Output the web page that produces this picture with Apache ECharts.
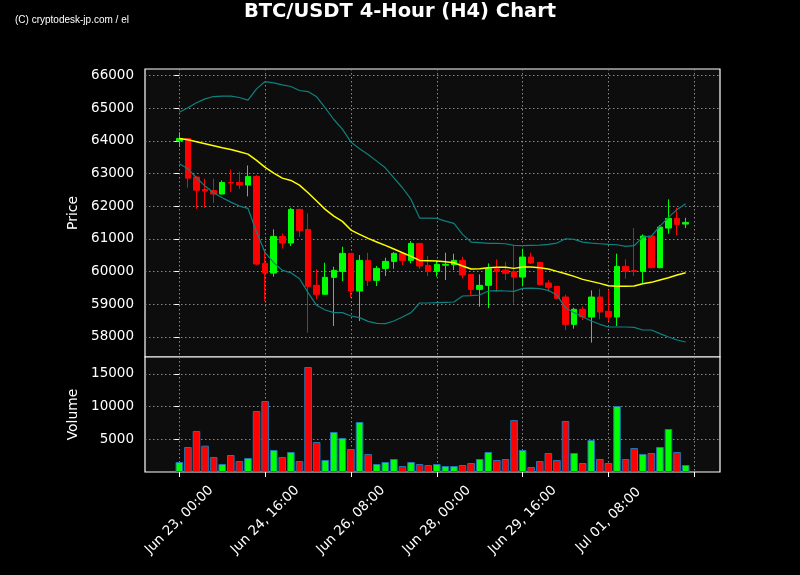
<!DOCTYPE html>
<html>
<head>
<meta charset="utf-8">
<script src="https://cdn.jsdelivr.net/npm/echarts@6/dist/echarts.min.js"></script>
<style>
html,body{margin:0;padding:0;background:#000;}
#c{width:800px;height:575px;}
</style>
</head>
<body>
<div id="c"></div>
<script>
// ---- data (4-hour candles, index 0 = Jun 23 00:00) ----
const openP  = [64000,64072,62890,62510,62480,62370,62720,62726,62645,62910,60247,59950,61070,60870,61900,61287,59574,59300,59819,60002,60553,59400,60339,59727,60094,60308,60553,60339,60859,60186,60002,60190,60206,60339,59911,59451,59574,60084,60043,59992,59829,60441,60278,59645,59543,59217,58380,58840,58605,59217,58778,58605,60155,60030,60002,61083,60114,61329,61624,61451];
const closeP = [64070,62858,62490,62460,62370,62726,62710,62645,62910,60227,59950,61073,60870,61900,61257,59543,59300,59819,60033,60553,59400,60339,59727,60094,60308,60553,60339,60859,60166,60002,60217,60217,60339,59890,59451,59574,60084,60002,59941,59829,60441,60257,59604,59513,59176,58380,58840,58605,59217,58758,58605,60155,60002,60000,61083,60114,61359,61624,61440,61502];
const lowP   = [63807,62563,61920,61950,62100,62359,62430,62530,62300,60200,59095,59840,60700,60780,61063,58126,59146,59290,58330,59707,59196,58483,59554,59554,59860,60084,60196,60247,60084,59860,59840,59737,60043,59788,59278,58921,58880,59380,59737,59013,59554,60227,59574,59380,59150,58207,58248,58513,57820,58534,58483,58330,59778,59865,59635,60100,60100,61155,61104,61329];
const highP  = [64266,64090,62920,62840,62840,62787,63120,63050,63245,62950,60675,61290,61165,61950,61920,61777,60064,60267,60145,60757,60570,60502,60573,60166,60420,60594,60570,60930,60870,60472,60320,60574,60543,60451,59920,59911,60247,60370,60298,60778,60696,60574,60290,59727,59560,59288,58890,58921,59421,59472,59431,60543,60370,61330,61134,61090,61420,62206,61951,61645];
const volume = [1530,3830,6280,4030,2300,1220,2600,1680,2140,9340,10870,3370,2300,3060,1680,16070,4590,1840,6120,5200,3520,7650,2760,1220,1530,1990,920,1530,1220,1070,1220,920,920,1070,1380,1990,3060,1840,1990,7960,3370,770,1680,2910,1840,7810,2910,1380,4900,1990,1380,10100,1990,3670,2760,2910,3830,6580,3060,1070];
const maLine = [64072,64031,63970,63909,63848,63787,63736,63664,63593,63400,63185,63011,62858,62787,62644,62410,62155,61900,61696,61533,61267,61135,61012,60900,60798,60686,60574,60461,60339,60329,60318,60298,60267,60166,60074,60084,60114,60125,60125,60094,60135,60135,60114,60074,60002,59931,59850,59757,59696,59635,59563,59543,59543,59553,59625,59666,59737,59808,59890,59962];
const bbUpper = [64878,65011,65164,65286,65357,65368,65368,65327,65245,65592,65816,65776,65714,65663,65541,65510,65347,65011,64654,64358,63960,63756,63583,63379,63175,62869,62563,62206,61635,61635,61624,61543,61471,61135,60900,60880,60859,60859,60849,60798,60788,60798,60808,60829,60869,61002,60982,60900,60869,60849,60829,60818,60767,60788,61053,61084,61390,61655,61900,62073];
const bbLower = [63297,63144,62869,62614,62410,62257,62124,62002,61930,61206,60574,60267,60033,59962,59778,59350,58962,58819,58738,58738,58636,58585,58472,58411,58401,58483,58605,58738,59034,59034,59044,59054,59064,59248,59258,59278,59401,59411,59401,59390,59482,59492,59472,59421,59268,58890,58738,58615,58483,58381,58299,58299,58299,58289,58207,58207,58095,57993,57901,57840];
const xTickIdx = [0,10,20,30,40,50,60];
const xTickLabels = ['Jun 23, 00:00','Jun 24, 16:00','Jun 26, 08:00','Jun 28, 00:00','Jun 29, 16:00','Jul 01, 08:00'];
const priceTicks = [58000,59000,60000,61000,62000,63000,64000,65000,66000];
const volTicks = [5000,10000,15000];
const titleText = 'BTC/USDT 4-Hour (H4) Chart';
const creditText = '(C) cryptodesk-jp.com / el';

// ---- build ----
const UP = '#00ff00', DOWN = '#ff0000';
const candleData = openP.map((o,i)=>[i,o,closeP[i],lowP[i],highP[i]]);
const volData = volume.map((v,i)=>({value:[i,v], itemStyle:{color: closeP[i]>=openP[i]?UP:DOWN}}));
const toXY = arr => arr.map((v,i)=>[i,v]);

const FONT = 'DejaVu Sans';
const gridLine = {show:true, lineStyle:{color:'#8a8a8a', type:[1.5,2.5], width:1}};
const tickLabelStyle = {color:'#ffffff', fontSize:13.5, fontFamily:FONT};
const plainNum = v => String(v);

const chart = echarts.init(document.getElementById('c'), null, {renderer:'canvas'});
chart.setOption({
  backgroundColor:'#000000',
  animation:false,
  title:{text:titleText, left:'center', top:-3,
    textStyle:{color:'#ffffff', fontSize:19.5, fontWeight:'bold', fontFamily:FONT}},
  graphic:[{type:'text', left:15, top:15, style:{text:creditText, fill:'#ffffff', font:'10px "Liberation Sans"'}}],
  grid:[
    {left:145, right:80, top:69, height:288, show:true, backgroundColor:'#0d0d0d', borderColor:'#ffffff', borderWidth:1.2},
    {left:145, right:80, top:357, height:115, show:true, backgroundColor:'#0d0d0d', borderColor:'#ffffff', borderWidth:1.2}
  ],
  xAxis:[
    {type:'value', gridIndex:0, min:-4, max:63,
     axisLine:{show:false}, axisLabel:{show:false},
     axisTick:{show:false, customValues:xTickIdx}, splitLine:gridLine},
    {type:'value', gridIndex:1, min:-4, max:63,
     axisLine:{show:false},
     axisTick:{show:true, inside:false, length:5, customValues:xTickIdx, lineStyle:{color:'#ffffff'}},
     axisLabel:{show:true, rotate:45, margin:48, align:'center', verticalAlign:'middle',
       customValues:xTickIdx.slice(0,6),
       formatter:v=>xTickLabels[Math.round(v/10)]||'', ...tickLabelStyle},
     splitLine:gridLine}
  ],
  yAxis:[
    {type:'value', gridIndex:0, min:57380, max:66200, name:'Price', nameLocation:'middle', nameGap:48,
     nameTextStyle:{color:'#ffffff', fontSize:13.9, fontFamily:FONT},
     axisLine:{show:false},
     axisTick:{show:true, length:5, customValues:priceTicks, lineStyle:{color:'#ffffff'}},
     axisLabel:{customValues:priceTicks, margin:11, formatter:plainNum, ...tickLabelStyle},
     splitLine:gridLine},
    {type:'value', gridIndex:1, min:0, max:17600, name:'Volume', nameLocation:'middle', nameGap:48,
     nameTextStyle:{color:'#ffffff', fontSize:13.9, fontFamily:FONT},
     axisLine:{show:false},
     axisTick:{show:true, length:5, customValues:volTicks, lineStyle:{color:'#ffffff'}},
     axisLabel:{customValues:volTicks, margin:11, formatter:plainNum, ...tickLabelStyle},
     splitLine:gridLine}
  ],
  series:[
    {type:'candlestick', xAxisIndex:0, yAxisIndex:0, data:candleData, encode:{x:0, y:[1,2,3,4]},
     barWidth:6, z:2,
     itemStyle:{color:UP, color0:DOWN, borderColor:UP, borderColor0:DOWN, borderWidth:1}},
    {type:'line', xAxisIndex:0, yAxisIndex:0, data:toXY(bbUpper), showSymbol:false, z:3,
     lineStyle:{color:'#0f8080', width:1.2}},
    {type:'line', xAxisIndex:0, yAxisIndex:0, data:toXY(bbLower), showSymbol:false, z:3,
     lineStyle:{color:'#0f8080', width:1.2}},
    {type:'line', xAxisIndex:0, yAxisIndex:0, data:toXY(maLine), showSymbol:false, z:4,
     lineStyle:{color:'#ffff00', width:1.5}},
    {type:'bar', xAxisIndex:1, yAxisIndex:1, data:volData, barWidth:7.6,
     itemStyle:{borderColor:'#1f77b4', borderWidth:1}}
  ]
});
</script>
</body>
</html>
